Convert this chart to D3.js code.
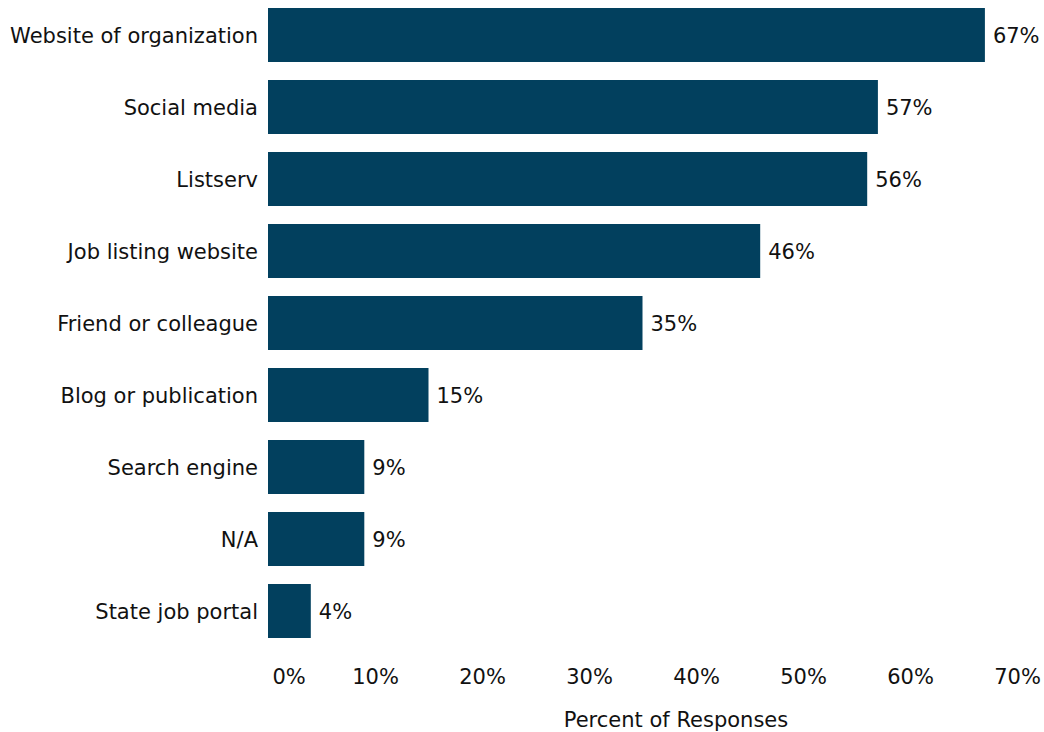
<!DOCTYPE html>
<html>
<head>
<meta charset="utf-8">
<script src="https://cdn.jsdelivr.net/npm/d3@7"></script>
<style>
  html, body { margin: 0; padding: 0; background: #fff; }
  svg { display: block; font-family: "DejaVu Sans", Verdana, sans-serif; }
</style>
</head>
<body>
<svg id="chart" width="1044" height="732"></svg>
<script>
// Survey: where respondents learned about the position
const categories = [
  "Website of organization",
  "Social media",
  "Listserv",
  "Job listing website",
  "Friend or colleague",
  "Blog or publication",
  "Search engine",
  "N/A",
  "State job portal"
];
const percents = [67, 57, 56, 46, 35, 15, 9, 9, 4];
const tickValues = [0, 10, 20, 30, 40, 50, 60, 70];
const axisTitle = "Percent of Responses";

const barColor = "#02405e";
const textColor = "#111";
const fontSize = 21;

const svg = d3.select("#chart");

const x = d3.scaleLinear().domain([0, 70]).range([268, 1017]);
const y = d3.scaleBand()
  .domain(categories)
  .range([-1, 647])
  .paddingInner(0.25)
  .paddingOuter(0.125);

const rows = categories.map((c, i) => ({ cat: c, val: percents[i] }));

// Bars
svg.append("g").selectAll("rect")
  .data(rows)
  .join("rect")
  .attr("x", x(0))
  .attr("y", d => y(d.cat))
  .attr("width", d => x(d.val) - x(0))
  .attr("height", y.bandwidth())
  .attr("fill", barColor);

// Value labels at bar ends
svg.append("g").selectAll("text")
  .data(rows)
  .join("text")
  .attr("x", d => x(d.val) + 8)
  .attr("y", d => y(d.cat) + y.bandwidth() / 2)
  .attr("dy", "0.36em")
  .attr("font-size", fontSize)
  .attr("fill", textColor)
  .text(d => d.val + "%");

// Category axis (labels only)
const yAxis = svg.append("g")
  .attr("transform", `translate(${x(0)},0)`)
  .call(d3.axisLeft(y).tickSize(0).tickPadding(10));
yAxis.select(".domain").remove();
yAxis.selectAll("text")
  .attr("font-size", fontSize)
  .attr("font-family", "DejaVu Sans, Verdana, sans-serif")
  .attr("fill", textColor)
  .attr("dy", "0.36em");

// Percent axis (labels only)
const xAxis = svg.append("g")
  .attr("transform", "translate(0,684)")
  .call(d3.axisBottom(x).tickValues(tickValues).tickSize(0).tickPadding(0)
    .tickFormat(d => d + "%"));
xAxis.select(".domain").remove();
xAxis.selectAll("text")
  .attr("font-size", fontSize)
  .attr("font-family", "DejaVu Sans, Verdana, sans-serif")
  .attr("fill", textColor)
  .attr("y", 0)
  .attr("dy", 0);
// keep the 0% label clear of the category labels
xAxis.selectAll(".tick").filter(d => d === 0).select("text")
  .attr("text-anchor", "start")
  .attr("x", 4);

// Axis title
svg.append("text")
  .attr("x", 676)
  .attr("y", 727)
  .attr("text-anchor", "middle")
  .attr("font-size", fontSize)
  .attr("fill", textColor)
  .text(axisTitle);
</script>
</body>
</html>
